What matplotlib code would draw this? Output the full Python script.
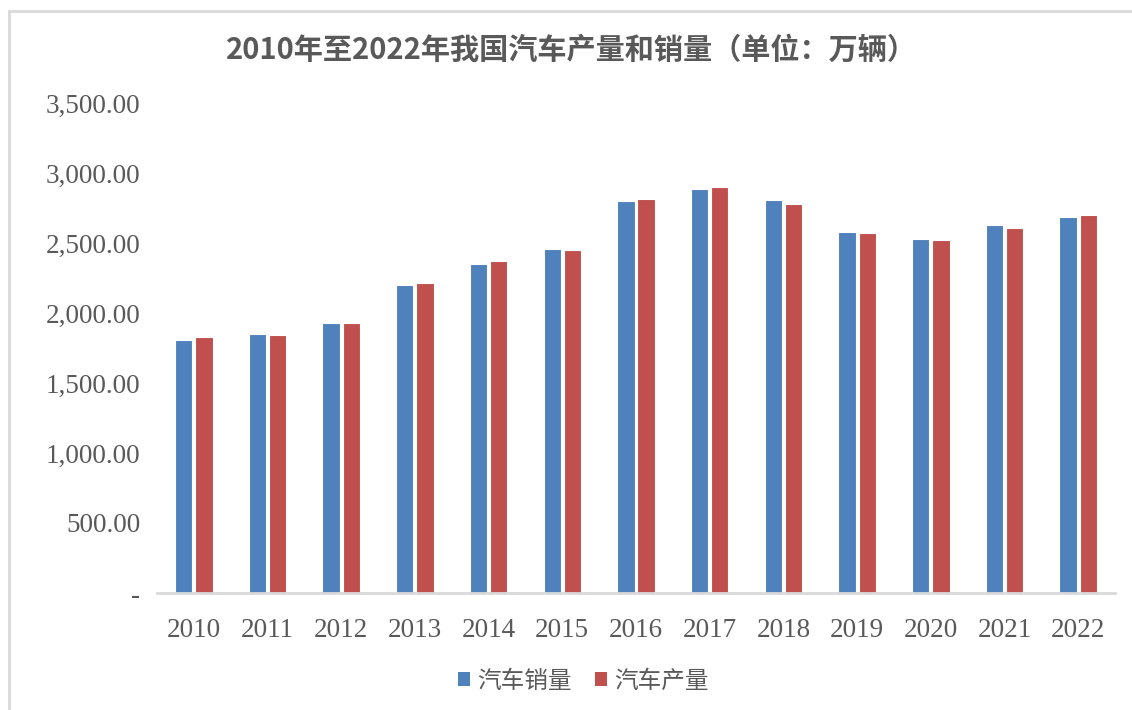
import numpy as np
import matplotlib.pyplot as plt
from matplotlib.patches import Patch
from matplotlib.lines import Line2D
from matplotlib.ticker import FuncFormatter

years = ["2010", "2011", "2012", "2013", "2014", "2015", "2016",
         "2017", "2018", "2019", "2020", "2021", "2022"]
sales = [1806.19, 1850.51, 1930.64, 2198.41, 2349.19, 2459.76, 2802.82,
         2887.89, 2808.06, 2576.87, 2531.10, 2627.50, 2686.40]
production = [1826.47, 1841.89, 1927.18, 2211.68, 2372.29, 2450.33, 2811.88,
              2901.54, 2780.92, 2572.07, 2522.50, 2608.20, 2702.10]
series_names = ["汽车销量", "汽车产量"]

blue = "#4F81BD"
red = "#C0504D"
grey_text = "#595959"
cjk = ["Noto Sans CJK SC", "DejaVu Sans"]
serif = ["Liberation Serif", "DejaVu Serif"]

fig = plt.figure(figsize=(11.32, 7.1), dpi=100)
ax = fig.add_axes([157 / 1132, 1 - 593 / 710, (1115 - 157) / 1132, (593 - 103) / 710])

# outer frame (top and left edges only show in the screenshot)
fig.add_artist(Line2D([9 / 1132, 9 / 1132], [0, 1 - 11 / 710],
                      transform=fig.transFigure, color="#D9D9D9", lw=2))
fig.add_artist(Line2D([9 / 1132, 1], [1 - 11 / 710, 1 - 11 / 710],
                      transform=fig.transFigure, color="#D9D9D9", lw=2))

x = np.arange(len(years))
w = 0.235
off = 0.137
ax.bar(x - off, sales, w, color=blue, edgecolor="white", linewidth=0.8, zorder=2)
ax.bar(x + off, production, w, color=red, edgecolor="white", linewidth=0.8, zorder=2)

ax.set_xlim(-0.5, len(years) - 0.5)
ax.set_ylim(0, 3500)
ax.set_yticks(np.arange(0, 3501, 500))
ax.yaxis.set_major_formatter(FuncFormatter(lambda v, p: "-" if v == 0 else f"{v:,.2f}"))
ax.set_xticks(x)
ax.set_xticklabels(years)

for s in ["top", "right", "left"]:
    ax.spines[s].set_visible(False)
ax.spines["bottom"].set_color("#D9D9D9")
ax.spines["bottom"].set_linewidth(2)
ax.tick_params(length=0, colors=grey_text, labelsize=19.5)
ax.tick_params(axis="y", pad=12)
ax.tick_params(axis="x", pad=18)
for lab in ax.get_xticklabels() + ax.get_yticklabels():
    lab.set_family(serif)

fig.text(0.505, 1 - 50 / 710, "2010年至2022年我国汽车产量和销量（单位：万辆）",
         ha="center", va="center", fontsize=21, fontweight="bold",
         color=grey_text, family=cjk)

handles = [Patch(facecolor=blue, edgecolor="none"), Patch(facecolor=red, edgecolor="none")]
leg = fig.legend(handles, series_names, loc="center", bbox_to_anchor=(0.515, 1 - 681 / 710),
                 ncol=2, frameon=False, handlelength=0.5, handleheight=0.5,
                 handletextpad=0.3, columnspacing=1.0,
                 prop={"family": cjk, "size": 17})
for t in leg.get_texts():
    t.set_color(grey_text)

plt.savefig("out.png", dpi=100)
